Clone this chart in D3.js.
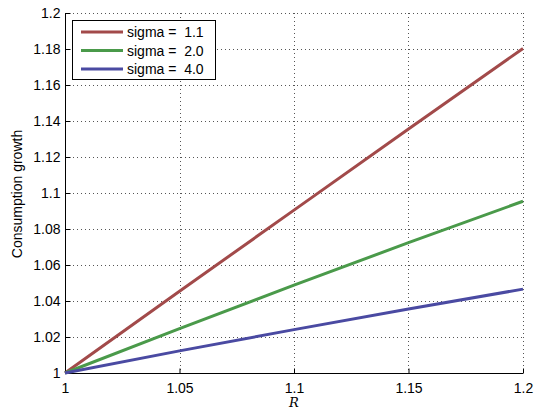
<!DOCTYPE html>
<html><head><meta charset="utf-8">
<script src="https://cdn.jsdelivr.net/npm/d3@7"></script>
<style>body{margin:0;background:#fff}svg{display:block}</style>
</head><body><svg id="c" width="535" height="409"></svg>
<script>
const R = [1, 1.05, 1.1, 1.15, 1.2];
const sigma11 = [1, 1.0454, 1.0905, 1.1356, 1.1803];
const sigma20 = [1, 1.0247, 1.0488, 1.0724, 1.0954];
const sigma40 = [1, 1.0123, 1.0241, 1.0356, 1.0466];
const seriesNames = ["sigma =  1.1", "sigma =  2.0", "sigma =  4.0"];
const colors = ["#A24A4A", "#4A9A4A", "#4A4AA2"];
const xTicks = [1, 1.05, 1.1, 1.15, 1.2];
const yTicks = [1, 1.02, 1.04, 1.06, 1.08, 1.1, 1.12, 1.14, 1.16, 1.18, 1.2];

const svg = d3.select("#c");
const L = 65, Rt = 523, T = 13, B = 373;
const x = d3.scaleLinear().domain([1, 1.2]).range([L, Rt]);
const y = d3.scaleLinear().domain([1, 1.2]).range([B, T]);
const font = "Helvetica, 'Liberation Sans', Arial, sans-serif";
const fs = 14;

// grid
const g = svg.append("g");
g.selectAll(".vg").data(xTicks.slice(1)).enter().append("line")
  .attr("x1", d => Math.round(x(d)) + 0.5).attr("x2", d => Math.round(x(d)) + 0.5)
  .attr("y1", T).attr("y2", B).attr("stroke", "#555").attr("stroke-width", 1).attr("stroke-dasharray", "1,3");
g.selectAll(".hg").data(yTicks.slice(1)).enter().append("line")
  .attr("y1", d => Math.round(y(d)) + 0.5).attr("y2", d => Math.round(y(d)) + 0.5)
  .attr("x1", L).attr("x2", Rt).attr("stroke", "#555").attr("stroke-width", 1).attr("stroke-dasharray", "1,3");

// axes
const xa = d3.axisBottom(x).tickValues(xTicks).tickSize(-5).tickPadding(10).tickFormat(d3.format("~g"));
const ya = d3.axisLeft(y).tickValues(yTicks).tickSize(-5).tickPadding(5).tickFormat(d3.format("~g"));
const gx = svg.append("g").attr("transform", `translate(0,${B + 0.5})`).call(xa);
const gy = svg.append("g").attr("transform", `translate(${L + 0.5},0)`).call(ya);
[gx, gy].forEach(a => {
  a.select(".domain").attr("stroke", "#000").attr("stroke-width", 1);
  a.selectAll(".tick line").attr("stroke", "#000");
  a.selectAll("text").attr("font-family", font).attr("font-size", fs).attr("fill", "#000");
});
gx.select(".domain").attr("d", `M${L},0H${Rt}`);
gy.select(".domain").attr("d", `M0,${B}V${T}`);

// lines
const data = [sigma11, sigma20, sigma40];
const line = d3.line().x((d, i) => x(R[i])).y(d => y(d));
svg.selectAll(".ln").data(data).enter().append("path")
  .attr("d", d => line(d)).attr("fill", "none")
  .attr("stroke", (d, i) => colors[i]).attr("stroke-width", 3);

// labels
svg.append("text").attr("transform", "translate(22,194) rotate(-90)")
  .attr("text-anchor", "middle").attr("font-family", font).attr("font-size", fs)
  .text("Consumption growth");
svg.append("text").attr("x", x(1.1)).attr("y", 407).attr("text-anchor", "middle")
  .attr("font-family", "'DejaVu Serif', 'Liberation Serif', serif").attr("font-style", "italic")
  .attr("font-size", 13).text("R");

// legend
const lg = svg.append("g");
lg.append("rect").attr("x", 72.5).attr("y", 20.5).attr("width", 143).attr("height", 59)
  .attr("fill", "#fff").attr("stroke", "#000").attr("stroke-width", 1);
seriesNames.forEach((n, i) => {
  const yy = 32 + i * 18.5;
  lg.append("line").attr("x1", 81).attr("x2", 123).attr("y1", yy).attr("y2", yy)
    .attr("stroke", colors[i]).attr("stroke-width", 3);
  lg.append("text").attr("x", 127).attr("y", yy + 5).attr("font-family", font)
    .attr("font-size", fs).attr("xml:space", "preserve").style("white-space", "pre").text(n);
});
</script></body></html>
